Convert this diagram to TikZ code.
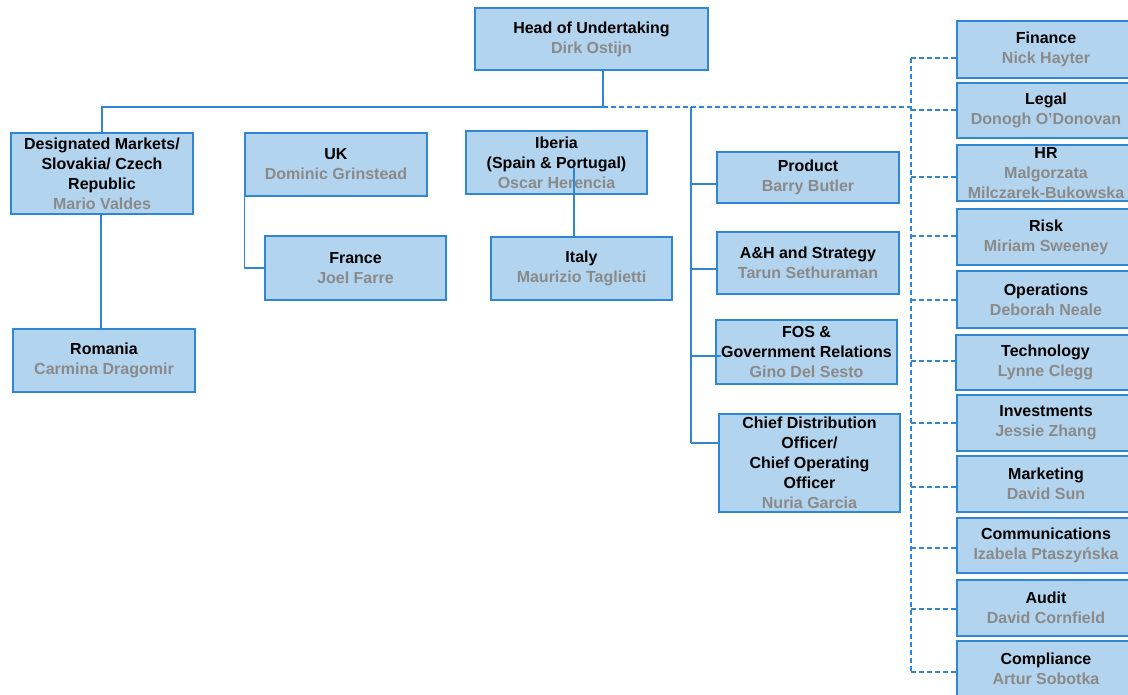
\documentclass[tikz,border=0pt]{standalone}
\usepackage{fontspec}
\setmainfont{Liberation Sans}
\definecolor{boxfill}{HTML}{B3D4EE}
\definecolor{boxline}{HTML}{2F86D1}
\definecolor{namegray}{HTML}{8A8A8A}
\tikzset{
 orgbox/.style={draw=boxline, fill=boxfill, line width=1.5pt, inner sep=0pt, align=center, font=\fontsize{16}{20}\selectfont\bfseries},
 conn/.style={draw=boxline, line width=1.3pt},
 dconn/.style={draw=boxline, line width=1.3pt, dash pattern=on 5pt off 3pt},
}
\newcommand{\nm}[1]{\textcolor{namegray}{#1}}
\newcommand{\orgnode}[6]{\node[orgbox, minimum width={(#4)-(#2)}, minimum height={(#5)-(#3)}] (#1) at ({((#2)+(#4))/2},{((#3)+(#5))/2}) {#6};}
\begin{document}
\begin{tikzpicture}[x=1pt,y=-1pt]
\useasboundingbox (0,0) rectangle (1128,695);
% left / centre boxes
\orgnode{head}{475}{8}{708}{70}{Head of Undertaking\\\nm{Dirk Ostijn}}
\orgnode{dm}{11}{133}{193}{214}{Designated Markets/\\Slovakia/ Czech\\Republic\\\nm{Mario Valdes}}
\orgnode{uk}{245}{133}{427}{196}{UK\\\nm{Dominic Grinstead}}
\orgnode{ib}{466}{131}{647}{194}{Iberia\\(Spain \& Portugal)\\\nm{Oscar Herencia}}
\orgnode{fr}{265}{236}{446}{300}{France\\\nm{Joel Farre}}
\orgnode{it}{491}{237}{672}{300}{Italy\\\nm{Maurizio Taglietti}}
\orgnode{ro}{13}{329}{195}{392}{Romania\\\nm{Carmina Dragomir}}
\orgnode{prod}{717}{152}{899}{203}{Product\\\nm{Barry Butler}}
\orgnode{ah}{717}{232}{899}{294}{A\&H and Strategy\\\nm{Tarun Sethuraman}}
\orgnode{fos}{716}{320}{897}{384}{FOS \&\\Government Relations\\\nm{Gino Del Sesto}}
\orgnode{cdo}{719}{414}{900}{512}{Chief Distribution\\Officer/\\Chief Operating\\Officer\\\nm{Nuria Garcia}}
% right column
\orgnode{fin}{957}{21}{1135}{78}{Finance\\\nm{Nick Hayter}}
\orgnode{leg}{957}{83}{1135}{138}{Legal\\\nm{Donogh O'Donovan}}
\orgnode{hr}{957}{145}{1135}{201}{HR\\\nm{Malgorzata}\\\nm{Milczarek-Bukowska}}
\orgnode{risk}{957}{209}{1135}{265}{Risk\\\nm{Miriam Sweeney}}
\orgnode{ops}{957}{271}{1135}{328}{Operations\\\nm{Deborah Neale}}
\orgnode{tech}{956}{335}{1135}{390}{Technology\\\nm{Lynne Clegg}}
\orgnode{inv}{957}{395}{1135}{451}{Investments\\\nm{Jessie Zhang}}
\orgnode{mkt}{957}{456}{1135}{512}{Marketing\\\nm{David Sun}}
\orgnode{com}{957}{518}{1135}{573}{Communications\\\nm{Izabela Ptaszyńska}}
\orgnode{aud}{957}{580}{1135}{636}{Audit\\\nm{David Cornfield}}
\orgnode{comp}{957}{641}{1135}{697}{Compliance\\\nm{Artur Sobotka}}
% junctions
\coordinate (hj) at (603,107);
\coordinate (lj) at (102,107);
\coordinate (mj) at (691,107);
\coordinate (dj) at (911,107);
\coordinate (ibj) at (574,168);
% solid connectors
\draw[conn] (head.south -| hj) -- (hj) -- (lj) -- (lj |- dm.north);
\draw[conn] (dm.south -| 101,0) -- (ro.north -| 101,0);
\draw[conn] (uk.south west) |- (fr.west);
\draw[conn] (ibj) -- (it.north -| ibj);
\draw[conn] (mj) -- (mj |- 0,443);
\draw[conn] (mj |- 0,184) -- (prod.west |- 0,184);
\draw[conn] (mj |- 0,269) -- (ah.west |- 0,269);
\draw[conn] (mj |- 0,356) -- ([xshift=6pt]fos.west |- 0,356);
\draw[conn] (mj |- 0,443) -- (cdo.west |- 0,443);
% dashed connectors
\draw[dconn] (hj) -- (dj);
\draw[dconn] (dj |- 0,58) -- (dj |- 0,672);
\foreach \n/\y in {fin/58,leg/110,hr/177,risk/236,ops/300,tech/361,inv/423,mkt/487,com/548,aud/609,comp/672}{
  \draw[dconn] (dj |- 0,\y) -- (\n.west |- 0,\y);
}
\end{tikzpicture}
\end{document}
